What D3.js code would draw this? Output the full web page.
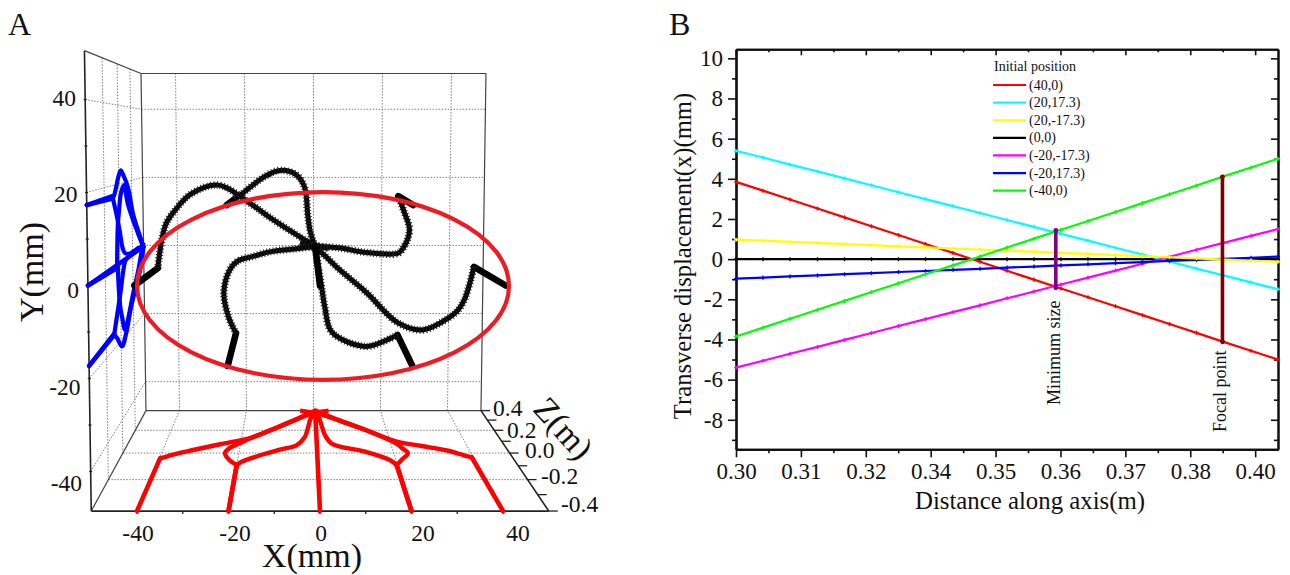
<!DOCTYPE html>
<html lang="en">
<head>
	<meta charset="UTF-8">
	<title>Beam trajectories</title>
	<script src="https://cdn.jsdelivr.net/npm/d3@7"></script>
	<style>
		html,body{
			margin:0;
			background:#fff;
		}
		svg{
			display:block;
		}
		text{
			font-family:"Liberation Serif",serif;
			fill:#111;
		}
	</style>
</head>
<body>
	<svg id="svg" width="1290" height="575"></svg>
	<script>
		// panel A: one trajectory per start position, X(mm), Y(mm), Z(m)
		var zPos40 = [-0.4,-0.034,-0.016,0,0.019,0.059,0.096,0.2,0.3,0.37,0.4],
			xPos40 = [40,39.6,37.7,36.3,34.4,28,21.8,14.4,7,1,-4],
			yPos40 = [0,-0.7,-9,-12.1,-14.3,-18.3,-17.1,-10.9,-5.6,-0.8,0.8];
		var zPos20Up = [-0.4,-0.094,-0.048,0,0.042,0.08,0.2,0.3,0.4],
			xPos20Up = [20,19.85,21.8,23.7,22.6,21.6,14.4,7,0.5],
			yPos20Up = [17.3,17.4,13.2,8.2,3.2,1.4,0.2,0.4,-0.3];
		var zPos20Down = [-0.4,-0.094,-0.056,0.011,0.08,0.156,0.25,0.33,0.4],
			xPos20Down = [20,19.85,18.5,12.7,4.3,2.7,2,1.4,0.5],
			yPos20Down = [-17.3,-16.6,-18.2,-21.6,-19.3,-14.3,-9.9,-6.2,-0.3];
		var zNeg40 = [-0.4,-0.043,-0.024,-0.002,0.025,0.074,0.133,0.2,0.3,0.37,0.4],
			xNeg40 = [-40,-39.8,-38,-35.7,-32.1,-25.4,-17.2,-12.4,-5.6,-0.5,4.5],
			yNeg40 = [0,-0.9,9.7,13.4,17.2,19.3,14,9.9,4.5,0.8,-0.8];
		var zNeg20Up = [-0.4,-0.094,-0.069,-0.002,0.03,0.067,0.139,0.22,0.31,0.4],
			xNeg20Up = [-20,-20,-18.9,-12.8,-9.2,-5,-2.8,-1.9,-1.05,0.5],
			yNeg20Up = [17.3,16.8,17.5,22,23.3,22,18.3,10.4,4.8,-0.3];
		var zNeg20Down = [-0.4,-0.094,-0.056,0,0.048,0.08,0.133,0.2,0.3,0.4],
			xNeg20Down = [-20,-20,-22.1,-23.6,-22.4,-20.4,-17.2,-12.4,-5.6,0.5],
			yNeg20Down = [-17.3,-16.2,-12.8,-7.7,-2.6,-0.6,-0.2,0.4,0.1,-0.3];
		var zCentre = [-0.4,0.4],
			xCentre = [0,0.5],
			yCentre = [0,-0.3];

		var xTicks3d = [-40,-20,0,20,40],
			yTicks3d = [-40,-20,0,20,40],
			zTicks3d = [-0.2,0,0.2],
			zLabels3d = ["-0.4","-0.2","0.0","0.2","0.4"],
			ellipseCentre = [0.66,-0.1],
			ellipseRadii = [40.65,20.2];

		// panel B
		var distance = [0.3,0.3052,0.3104,0.3157,0.3209,0.3261,0.3313,0.3365,0.3418,0.347,0.3522,0.3574,0.3626,0.3678,0.3731,0.3783,0.3835,0.3887,0.3939,0.3992,0.4044];
		var dispRed = [3.85,3.41,2.97,2.52,2.08,1.64,1.2,0.75,0.31,-0.13,-0.58,-1.02,-1.46,-1.9,-2.35,-2.79,-3.23,-3.67,-4.12,-4.56,-5];
		var dispCyan = [5.4,5.06,4.71,4.37,4.02,3.68,3.33,2.99,2.64,2.3,1.95,1.61,1.26,0.92,0.57,0.23,-0.12,-0.47,-0.81,-1.16,-1.5];
		var dispYellow = [0.97,0.92,0.86,0.81,0.75,0.7,0.64,0.59,0.53,0.48,0.42,0.37,0.31,0.26,0.2,0.15,0.09,0.04,-0.02,-0.07,-0.13];
		var dispBlack = [0,0,0,0,0,0,0,0,0,0,0,0,0,0,0,0,0,0,0,0,0];
		var dispMagenta = [-5.4,-5.06,-4.71,-4.37,-4.02,-3.68,-3.33,-2.99,-2.64,-2.3,-1.95,-1.61,-1.26,-0.92,-0.57,-0.23,0.12,0.47,0.81,1.16,1.5];
		var dispBlue = [-0.97,-0.92,-0.86,-0.81,-0.75,-0.7,-0.64,-0.59,-0.53,-0.48,-0.42,-0.37,-0.31,-0.26,-0.2,-0.15,-0.09,-0.04,0.02,0.07,0.13];
		var dispGreen = [-3.85,-3.41,-2.97,-2.52,-2.08,-1.64,-1.2,-0.75,-0.31,0.13,0.58,1.02,1.46,1.9,2.35,2.79,3.23,3.67,4.12,4.56,5];
		var legendTitle = "Initial position",
			legendNames = ["(40,0)","(20,17.3)","(20,-17.3)","(0,0)","(-20,-17.3)","(-20,17.3)","(-40,0)"],
			legendColors = ["#ff0000","#00ffff","#ffff00","#000000","#ff00ff","#0000ff","#00ff00"];
		var xTickValues = [0.3,0.3125,0.325,0.3375,0.35,0.3625,0.375,0.3875,0.4],
			xTickLabels = ["0.30","0.31","0.32","0.34","0.35","0.36","0.37","0.38","0.40"],
			xMinorValues = [0.30625,0.31875,0.33125,0.34375,0.35625,0.36875,0.38125,0.39375],
			yTickValues = [-8,-6,-4,-2,0,2,4,6,8,10],
			yMinorValues = [-9,-7,-5,-3,-1,1,3,5,7,9],
			minSizeX = 0.3616, minSizeY = [-1.43,1.43],
			focalX = 0.3937, focalY = [-4.12,4.1];

		var svg = d3.select("#svg");

		/* ---------- panel A ---------- */
		var xFront = d3.scaleLinear().domain([-50,50]).range([91.25,548.75]),
			yFront = d3.scaleLinear().domain([0,20]).range([285.5,192.5]),
			depth = d3.scaleLinear().domain([-0.4,0.4]).range([0,1]);
		var xMin = -50, xMax = 50, yMin = -48.5, yMax = 50.5, zMin = -0.4, zMax = 0.4;

		// perspective towards one vanishing point, the image also widens a bit with height
		function project(p){
			var s = 1/(1+0.3657*depth(p[2])),
				cx = 295.7+(xFront(0)-295.7)*s,
				spread = 1+0.0003*(p[1]-yMin);
			return [
				cx+(xFront(p[0])-xFront(0))*s*spread,
				136+(yFront(p[1])-136)*s
			];
		}

		var a = svg.append("g");
		var lineStraight = d3.line().x(d=>project(d)[0]).y(d=>project(d)[1]);
		var lineCurve = d3.line().x(d=>project(d)[0]).y(d=>project(d)[1]).curve(d3.curveCatmullRom.alpha(0.5));

		function seg(g,pts,col,w,dash){
			return g.append("path")
				.attr("d",lineStraight(pts))
				.attr("fill","none")
				.attr("stroke",col)
				.attr("stroke-width",w)
				.attr("stroke-dasharray",dash||null);
		}

		// dotted grid on the three walls
		var grid = a.append("g");
		var gridCol = "#808080", gridDash = "1.5,1.5";
		xTicks3d.forEach(x=>{
			seg(grid,[[x,yMin,zMax],[x,yMax,zMax]],gridCol,1,gridDash);
			seg(grid,[[x,yMin,zMin],[x,yMin,zMax]],gridCol,1,gridDash);
		});
		yTicks3d.forEach(y=>{
			seg(grid,[[xMin,y,zMax],[xMax,y,zMax]],gridCol,1,gridDash);
			seg(grid,[[xMin,y,zMin],[xMin,y,zMax]],gridCol,1,gridDash);
		});
		zTicks3d.forEach(z=>{
			seg(grid,[[xMin,yMin,z],[xMax,yMin,z]],gridCol,1,gridDash);
			seg(grid,[[xMin,yMin,z],[xMin,yMax,z]],gridCol,1,gridDash);
		});

		// box
		var box = a.append("g");
		[
			[[xMin,yMin,zMax],[xMax,yMin,zMax]],
			[[xMin,yMax,zMax],[xMax,yMax,zMax]],
			[[xMin,yMin,zMax],[xMin,yMax,zMax]],
			[[xMax,yMin,zMax],[xMax,yMax,zMax]],
			[[xMin,yMax,zMin],[xMin,yMax,zMax]],
			[[xMin,yMin,zMin],[xMin,yMin,zMax]]
		].forEach(e=>seg(box,e,"#444",1.2));
		seg(box,[[xMin,yMin,zMin],[xMin,yMax,zMin]],"#222",1.6);
		seg(box,[[xMin,yMin,zMin],[xMax,yMin,zMin]],"#222",1.8);
		seg(box,[[xMax,yMin,zMin],[xMax,yMin,zMax]],"#222",1.6);

		// little ticks on the front axes and the z axis
		d3.range(-40,41,10).forEach(x=>{
			var p = project([x,yMin,zMin]);
			box.append("line").attr("x1",p[0]).attr("x2",p[0]).attr("y1",p[1]).attr("y2",p[1]+3).attr("stroke","#222").attr("stroke-width",1.3);
		});
		d3.range(-40,41,10).forEach(y=>{
			var p = project([xMin,y,zMin]);
			box.append("line").attr("x1",p[0]-1.5).attr("x2",p[0]+1.5).attr("y1",p[1]).attr("y2",p[1]).attr("stroke","#222").attr("stroke-width",1.3);
		});
		d3.range(-0.4,0.41,0.1).forEach(z=>{
			var p = project([xMax,yMin,z]);
			box.append("line").attr("x1",p[0]).attr("x2",p[0]+9).attr("y1",p[1]).attr("y2",p[1]).attr("stroke","#222").attr("stroke-width",1.3);
		});

		var arms = [
			[xPos40,yPos40,zPos40],
			[xPos20Up,yPos20Up,zPos20Up],
			[xPos20Down,yPos20Down,zPos20Down],
			[xNeg40,yNeg40,zNeg40],
			[xNeg20Up,yNeg20Up,zNeg20Up],
			[xNeg20Down,yNeg20Down,zNeg20Down],
			[xCentre,yCentre,zCentre]
		].map(arm=>arm[0].map((x,i)=>[x,arm[1][i],arm[2][i]]));

		function drawArm(g,pts,col,wFront,wCurve){
			seg(g,pts.slice(0,2),col,wFront).attr("stroke-linecap","round");
			if(pts.length>2){
				g.append("path")
					.attr("d",lineCurve(pts.slice(1)))
					.attr("fill","none")
					.attr("stroke",col)
					.attr("stroke-width",wCurve)
					.attr("stroke-linejoin","round");
			}
		}

		var blue = a.append("g");
		arms.forEach(pts=>drawArm(blue,pts.map(p=>[xMin,p[1],p[2]]),"#0000ff",4.4,4.2));

		var red = a.append("g");
		arms.forEach(pts=>drawArm(red,pts.map(p=>[p[0],yMin,p[2]]),"#ff0000",4.6,4.4));

		var black = a.append("g");
		arms.forEach(pts=>{
			drawArm(black,pts,"#000",6.6,5);
			if(pts.length>2){
				// the plot symbols stick out as a fine saw edge
				black.append("path")
					.attr("d",lineCurve(pts.slice(1)))
					.attr("fill","none")
					.attr("stroke","#222")
					.attr("stroke-width",7.5)
					.attr("stroke-dasharray","1,2.2");
			}
		});

		a.append("ellipse")
			.attr("cx",xFront(ellipseCentre[0]))
			.attr("cy",yFront(ellipseCentre[1]))
			.attr("rx",xFront(ellipseRadii[0])-xFront(0))
			.attr("ry",yFront(0)-yFront(ellipseRadii[1]))
			.attr("fill","none")
			.attr("stroke","#ed1c24")
			.attr("stroke-width",4.2);

		// tick labels sit apart from the ticks in the original, so they get their own scales
		var xLabelPos = d3.scaleLinear().domain(xTicks3d).range([138,235,321,423,518]),
			yLabelPos = d3.scaleLinear().domain([-40,40]).range([483,98]),
			yLabelRight = d3.scaleLinear().domain([-40,40]).range([82,76]),
			zLabelLeft = d3.scaleLinear().domain([-0.4,-0.2,0,0.2,0.4]).range([561,541,525,507,493]),
			zLabelPos = d3.scaleLinear().domain([-0.4,-0.2,0,0.2,0.4]).range([504,476,450,430,408]);

		xTicks3d.forEach(x=>{
			a.append("text").attr("x",xLabelPos(x)).attr("y",541).attr("text-anchor","middle").attr("font-size",23.5).text(x);
		});
		yTicks3d.forEach(y=>{
			a.append("text").attr("x",yLabelRight(y)).attr("y",yLabelPos(y)).attr("dy","0.33em").attr("text-anchor","end").attr("font-size",23.5).text(y);
		});
		d3.range(-0.4,0.41,0.2).forEach((z,i)=>{
			a.append("text").attr("x",zLabelLeft(+z.toFixed(1))).attr("y",zLabelPos(+z.toFixed(1))).attr("dy","0.33em").attr("font-size",23.5).text(zLabels3d[i]);
		});

		a.append("text").attr("x",312).attr("y",567).attr("text-anchor","middle").attr("font-size",34).text("X(mm)");
		a.append("text").attr("transform","translate(43,272) rotate(-90)").attr("text-anchor","middle").attr("font-size",34).text("Y(mm)");
		a.append("text").attr("transform","translate(555,436) rotate(48)").attr("text-anchor","middle").attr("font-size",34).text("Z(m)");

		svg.append("text").attr("x",8).attr("y",35).attr("font-size",32).text("A");
		svg.append("text").attr("x",669).attr("y",35).attr("font-size",32).text("B");

		/* ---------- panel B ---------- */
		var x = d3.scaleLinear().domain([0.3,0.4044]).range([736,1278]),
			y = d3.scaleLinear().domain([-9.47,10.45]).range([449.3,49.3]);

		var b = svg.append("g");

		function axisStyle(g,w){
			g.selectAll("path").attr("stroke","#111").attr("stroke-width",w);
			g.selectAll("line").attr("stroke","#111").attr("stroke-width",1.6);
		}

		// bottom and left axes have the labels, top and right only inward ticks
		var gBottom = b.append("g").attr("transform","translate(0,449.3)")
			.call(d3.axisBottom(x).tickValues(xTickValues).tickSize(8).tickSizeOuter(0).tickPadding(5)
				.tickFormat((d,i)=>xTickLabels[i]));
		gBottom.selectAll("text").attr("font-size",23);
		axisStyle(gBottom,2.2);
		axisStyle(b.append("g").attr("transform","translate(0,449.3)")
			.call(d3.axisBottom(x).tickValues(xMinorValues).tickSize(4).tickSizeOuter(0).tickFormat("")),2.2);

		var gLeft = b.append("g").attr("transform","translate(736,0)")
			.call(d3.axisLeft(y).tickValues(yTickValues).tickSize(8).tickSizeOuter(0).tickPadding(5)
				.tickFormat(d=>String(d)));
		gLeft.selectAll("text").attr("font-size",23);
		axisStyle(gLeft,2.2);
		axisStyle(b.append("g").attr("transform","translate(736,0)")
			.call(d3.axisLeft(y).tickValues(yMinorValues).tickSize(4).tickSizeOuter(0).tickFormat("")),2.2);

		axisStyle(b.append("g").attr("transform","translate(0,49.3)")
			.call(d3.axisBottom(x).tickValues(xTickValues).tickSize(6).tickSizeOuter(0).tickFormat("")),2);
		axisStyle(b.append("g").attr("transform","translate(0,49.3)")
			.call(d3.axisBottom(x).tickValues(xMinorValues).tickSize(3).tickSizeOuter(0).tickFormat("")),2);
		axisStyle(b.append("g").attr("transform","translate(1278,0)")
			.call(d3.axisLeft(y).tickValues(yTickValues).tickSize(7).tickSizeOuter(0).tickFormat("")),2);
		axisStyle(b.append("g").attr("transform","translate(1278,0)")
			.call(d3.axisLeft(y).tickValues(yMinorValues).tickSize(4).tickSizeOuter(0).tickFormat("")),2);

		var series = [dispRed,dispCyan,dispYellow,dispBlack,dispMagenta,dispBlue,dispGreen];
		var line = d3.line().x((d,i)=>x(distance[i])).y(d=>y(d));
		var drawOrder = [3,0,1,4,5,2,6];
		drawOrder.forEach(k=>{
			var g = b.append("g");
			g.append("path")
				.attr("d",line(series[k]))
				.attr("fill","none")
				.attr("stroke",legendColors[k])
				.attr("stroke-width",2.2);
			// small plus symbols along each line
			g.selectAll("path.m").data(series[k]).enter().append("path")
				.attr("class","m")
				.attr("transform",(d,i)=>"translate("+x(distance[i])+","+y(d)+")")
				.attr("d",d3.symbol().type(d3.symbolCross).size(9))
				.attr("fill",legendColors[k]);
		});

		function marker(xv,yv,col){
			b.append("line")
				.attr("x1",x(xv)).attr("x2",x(xv))
				.attr("y1",y(yv[0])).attr("y2",y(yv[1]))
				.attr("stroke",col).attr("stroke-width",3.6);
			yv.forEach(v=>{
				b.append("circle").attr("cx",x(xv)).attr("cy",y(v)).attr("r",2.4).attr("fill",col);
			});
		}
		marker(minSizeX,minSizeY,"#800080");
		marker(focalX,focalY,"#800000");

		b.append("text").attr("transform","translate(1060,405) rotate(-90)").attr("font-size",18).text("Minimum size");
		b.append("text").attr("transform","translate(1226,432) rotate(-90)").attr("font-size",18).text("Focal point");

		// legend
		var legend = b.append("g");
		var legendRow = d3.scaleLinear().domain([0,6]).range([85,190.7]);
		legend.append("text").attr("x",994).attr("y",66).attr("dy","0.33em").attr("font-size",14).text(legendTitle);
		legendNames.forEach((n,i)=>{
			legend.append("line")
				.attr("x1",993).attr("x2",1026)
				.attr("y1",legendRow(i)).attr("y2",legendRow(i))
				.attr("stroke",legendColors[i]).attr("stroke-width",2.2);
			legend.append("text").attr("x",1029).attr("y",legendRow(i)).attr("dy","0.33em").attr("font-size",14).text(n);
		});

		b.append("text").attr("x",1030).attr("y",509).attr("text-anchor","middle").attr("font-size",24.8).text("Distance along axis(m)");
		b.append("text").attr("transform","translate(691,256) rotate(-90)").attr("text-anchor","middle").attr("font-size",24.6).text("Transverse displacement(x)(mm)");
	</script>
</body>
</html>
